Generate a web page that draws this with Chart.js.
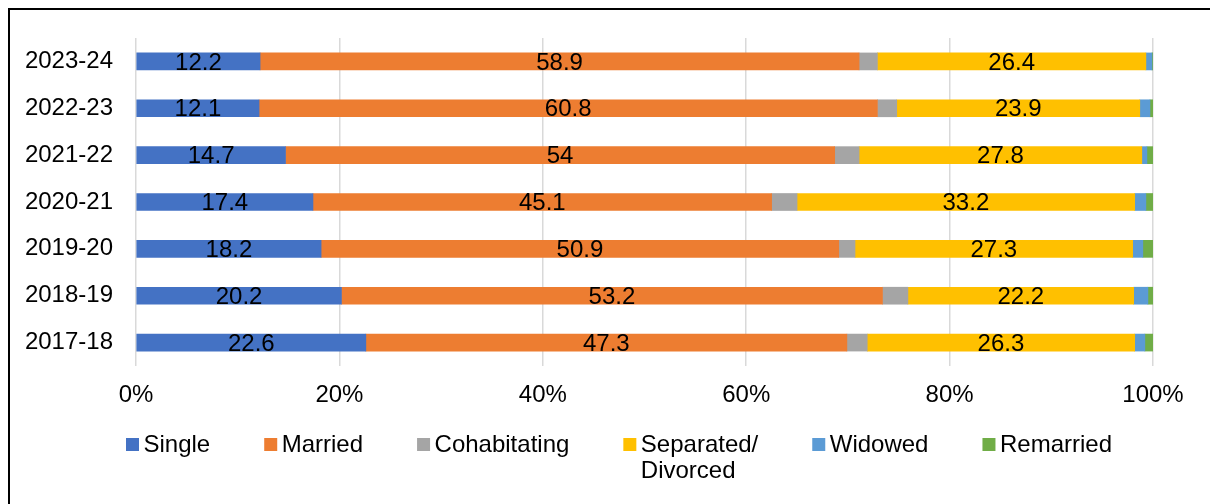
<!DOCTYPE html>
<html>
<head>
<meta charset="utf-8">
<title>Marital status by year</title>
<script src="https://cdn.jsdelivr.net/npm/chart.js@4/dist/chart.umd.min.js"></script>
<style>
  body { margin: 0; background: #fff; }
  #wrap { position: relative; width: 1210px; height: 504px; overflow: hidden; }
  #frame { position: absolute; left: 8px; top: 8px; width: 1400px; height: 700px;
           border-top: 2px solid #000; border-left: 2px solid #000; }
  #c { position: absolute; left: 0; top: 0; }
</style>
</head>
<body>
<div id="wrap">
  <div id="frame"></div>
  <canvas id="c" width="1210" height="504"></canvas>
</div>
<script>
// years, newest first (top row)
const years = ['2023-24', '2022-23', '2021-22', '2020-21', '2019-20', '2018-19', '2017-18']

// share of each status, percent
const single    = [12.2, 12.1, 14.7, 17.4, 18.2, 20.2, 22.6]
const married   = [58.9, 60.8, 54,   45.1, 50.9, 53.2, 47.3]
const cohab     = [1.8,  1.9,  2.4,  2.5,  1.6,  2.5,  2.0]
const separated = [26.4, 23.9, 27.8, 33.2, 27.3, 22.2, 26.3]
const widowed   = [0.6,  1.0,  0.5,  1.1,  1.0,  1.4,  1.0]
const remarried = [0.1,  0.3,  0.6,  0.7,  1.0,  0.5,  0.8]

const xTicks = [0, 20, 40, 60, 80, 100]

const FONT = 'Liberation Sans, Arial, sans-serif'
const SIZE = 24

// values written in the middle of the bigger segments
const barLabels = {
  id: 'barLabels',
  afterDatasetsDraw(chart) {
    const ctx = chart.ctx
    ctx.save()
    ctx.font = SIZE + 'px ' + FONT
    ctx.fillStyle = '#000'
    ctx.textAlign = 'center'
    ctx.textBaseline = 'middle'
    chart.data.datasets.forEach((ds, i) => {
      if (!ds.showValue) return
      chart.getDatasetMeta(i).data.forEach((el, j) => {
        const p = el.getCenterPoint()
        ctx.fillText(String(ds.data[j]), p.x, p.y + 1.5)
      })
    })
    ctx.restore()
  }
}

// legend in one row, labels may wrap on '\n'
const rowLegend = {
  id: 'rowLegend',
  afterDraw(chart) {
    const ctx = chart.ctx
    ctx.save()
    ctx.font = SIZE + 'px ' + FONT
    ctx.textBaseline = 'middle'
    ctx.textAlign = 'left'
    let x = 126
    const top = 438, box = 13, lineH = 26
    chart.data.datasets.forEach(ds => {
      ctx.fillStyle = ds.backgroundColor
      ctx.fillRect(x, top, box, box)
      const lines = ds.label.split('\n')
      ctx.fillStyle = '#000'
      let w = 0
      lines.forEach((ln, k) => {
        ctx.fillText(ln, x + box + 4.5, top + 7.5 + k * lineH)
        w = Math.max(w, ctx.measureText(ln).width)
      })
      x += box + 4.5 + w + 54
    })
    ctx.restore()
  }
}

function makeSet(label, data, color, showValue) {
  return { label: label, data: data, backgroundColor: color, showValue: showValue,
           barThickness: 17, borderWidth: 0 }
}

new Chart(document.getElementById('c'), {
  type: 'bar',
  data: {
    labels: years,
    datasets: [
      makeSet('Single', single, '#4472C4', true),
      makeSet('Married', married, '#ED7D31', true),
      makeSet('Cohabitating', cohab, '#A5A5A5', false),
      makeSet('Separated/\nDivorced', separated, '#FFC000', true),
      makeSet('Widowed', widowed, '#5B9BD5', false),
      makeSet('Remarried', remarried, '#70AD47', false)
    ]
  },
  options: {
    indexAxis: 'y',
    responsive: false,
    animation: false,
    devicePixelRatio: 1,
    layout: { padding: { left: 0, top: 38, right: 57, bottom: 98 } },
    plugins: {
      legend: { display: false },
      tooltip: { enabled: false }
    },
    scales: {
      x: {
        stacked: true,
        min: 0,
        max: 100,
        afterBuildTicks: (scale) => { scale.ticks = xTicks.map(v => ({ value: v })) },
        afterFit: (scale) => { scale.height = 40 },
        border: { display: false },
        grid: { color: '#d9d9d9', lineWidth: 1.5, drawTicks: false },
        ticks: {
          padding: 15,
          color: '#000',
          font: { family: FONT, size: SIZE }
        , callback: (v) => v + '%'
        }
      },
      y: {
        stacked: true,
        afterFit: (scale) => { scale.width = 136 },
        border: { display: false },
        grid: { display: false, drawTicks: false },
        ticks: {
          padding: 23,
          color: '#000',
          font: { family: FONT, size: SIZE }
        }
      }
    }
  },
  plugins: [barLabels, rowLegend]
})
</script>
</body>
</html>
